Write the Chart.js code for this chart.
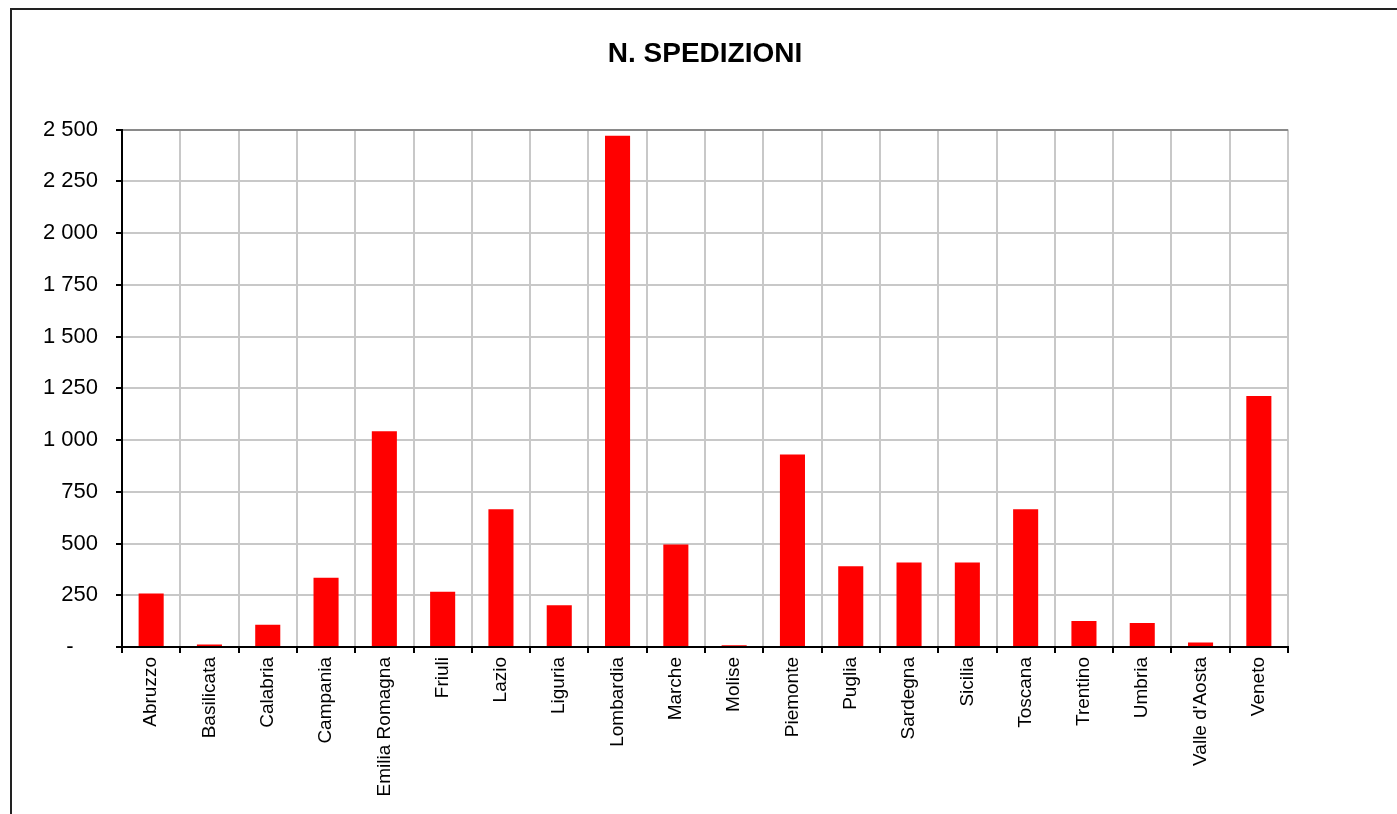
<!DOCTYPE html>
<html>
<head>
<meta charset="utf-8">
<script src="https://cdn.jsdelivr.net/npm/chart.js@4"></script>
<style>
    html, body { margin: 0; padding: 0; background: #fff; overflow: hidden; }
    #frame {
        position: absolute; left: 10px; top: 8px; width: 2000px; height: 2000px;
        border-left: 2px solid #222; border-top: 2px solid #222;
    }
    #wrap { position: absolute; left: 0; top: 0; width: 1397px; height: 814px; }
</style>
</head>
<body>
<div id="frame"></div>
<div id="wrap"><canvas id="chart"></canvas></div>
<script>
const regions = ['Abruzzo', 'Basilicata', 'Calabria', 'Campania', 'Emilia Romagna', 'Friuli', 'Lazio',
    'Liguria', 'Lombardia', 'Marche', 'Molise', 'Piemonte', 'Puglia', 'Sardegna', 'Sicilia',
    'Toscana', 'Trentino', 'Umbria', "Valle d'Aosta", 'Veneto'];
const shipments = [258, 12, 108, 335, 1042, 267, 665, 202, 2470, 495, 8, 930, 390, 408, 408,
    666, 126, 116, 22, 1213];
const yMax = 2500;
const yStep = 250;

function formatTick(value) {
    if (value === 0) return '-    ';
    const s = String(value);
    return s.length > 3 ? s.slice(0, -3) + ' ' + s.slice(-3) : s;
}

document.addEventListener('DOMContentLoaded', function() {
    const ctx = document.getElementById('chart');

    new Chart(ctx, {
        type: 'bar',
        data: {
            labels: regions,
            datasets: [{
                label: 'N. SPEDIZIONI',
                data: shipments,
                backgroundColor: '#ff0000',
                barPercentage: 0.43,
                categoryPercentage: 1
            }]
        },
        options: {
            responsive: true,
            maintainAspectRatio: false,
            animation: false,
            layout: { padding: { left: 0, right: 109, top: 0, bottom: 0 } },
            plugins: {
                legend: { display: false },
                tooltip: { enabled: false },
                title: {
                    display: true,
                    fullSize: false,
                    text: 'N. SPEDIZIONI',
                    color: '#000',
                    font: { family: 'Liberation Sans, Arial, sans-serif', size: 28, weight: 'bold' },
                    padding: { top: 37, bottom: 59 }
                }
            },
            scales: {
                x: {
                    afterFit: function(scale) { scale.height = 167; },
                    grid: {
                        color: function(c) { return c.index === regions.length ? '#8a8a8a' : '#c8c8c8'; },
                        lineWidth: 2,
                        tickColor: '#000',
                        tickWidth: 2,
                        tickLength: 6
                    },
                    border: { color: '#000', width: 2 },
                    ticks: {
                        color: '#000',
                        minRotation: 90,
                        maxRotation: 90,
                        autoSkip: false,
                        padding: 4,
                        font: { family: 'Liberation Sans, Arial, sans-serif', size: 19 }
                    }
                },
                y: {
                    min: 0,
                    max: yMax,
                    afterFit: function(scale) { scale.width = 122; },
                    grid: {
                        color: function(c) { return c.tick && c.tick.value === yMax ? '#8a8a8a' : '#c8c8c8'; },
                        lineWidth: 2,
                        tickColor: '#000',
                        tickWidth: 2,
                        tickLength: 6
                    },
                    border: { color: '#000', width: 2 },
                    ticks: {
                        stepSize: yStep,
                        color: '#000',
                        padding: 18,
                        font: { family: 'Liberation Sans, Arial, sans-serif', size: 22 },
                        callback: function(value) { return formatTick(value); }
                    }
                }
            }
        }
    });
});
</script>
</body>
</html>
